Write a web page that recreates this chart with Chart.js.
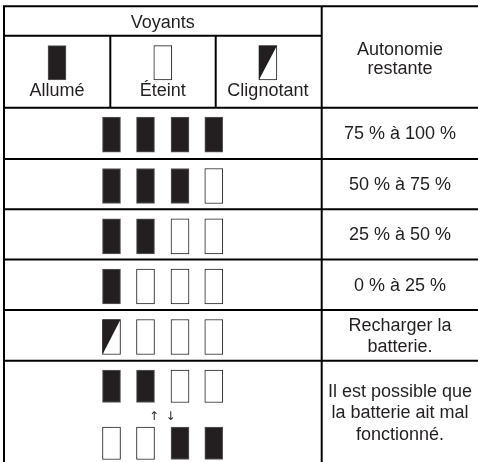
<!DOCTYPE html>
<html>
<head>
<meta charset="utf-8">
<script src="https://cdn.jsdelivr.net/npm/chart.js@4.4.1/dist/chart.umd.min.js"></script>
<style>
  html, body { margin: 0; padding: 0; background: #fff; }
  canvas { display: block; }
</style>
</head>
<body>
<canvas id="tableau" width="478" height="462" style="width:478px;height:462px"></canvas>
<script>
'use strict';

// ===== Données =====
var titre = 'Voyants';
var legende = ['Allumé', 'Éteint', 'Clignotant'];
var legendeEtats = ['on', 'off', 'blink'];
var enTeteAutonomie = ['Autonomie', 'restante'];
var autonomie = [
  ['75 % à 100 %'],
  ['50 % à 75 %'],
  ['25 % à 50 %'],
  ['0 % à 25 %'],
  ['Recharger la', 'batterie.'],
  ['Il est possible que', 'la batterie ait mal', 'fonctionné.']
];
// chaque ligne : une ou deux séquences de 4 voyants
var voyants = [
  [['on', 'on', 'on', 'on']],
  [['on', 'on', 'on', 'off']],
  [['on', 'on', 'off', 'off']],
  [['on', 'off', 'off', 'off']],
  [['blink', 'off', 'off', 'off']],
  [['on', 'on', 'off', 'off'], ['off', 'off', 'on', 'on']]
];
var alternance = ['↑', '↓'];

// ===== Mise en page (unités = pixels) =====
var NOIR = '#231f20';
var POLICE = '18px "Liberation Sans", Arial, sans-serif';
var xGauche = 4, xDroite = 478, xSep = 321.7, ySup = 6.3, yVoyants = 35.7, yEntete = 107.7;
var xSousCol = [110.3, 215.7];
var hautLignes = [107.7, 159, 209.3, 259.5, 310, 360.7];
var yBas = 462;
var slotX = [111.5, 145.5, 180, 213.8];
var legendeX = [57, 162.8, 267.9];
var xTexte = 400;

// construction des barres (rectangles des voyants)
var barres = [];
for (var k = 0; k < legendeEtats.length; k++) {
  barres.push({ x: legendeX[k], y: [45.7, 80], etat: legendeEtats[k] });
}
for (var i = 0; i < voyants.length; i++) {
  var seqs = voyants[i];
  for (var s = 0; s < seqs.length; s++) {
    var haut, h;
    if (seqs.length === 1) { haut = hautLignes[i] + 9.5; h = 35; }
    else { haut = hautLignes[i] + (s === 0 ? 9.3 : 66.3); h = 32.5; }
    for (var j = 0; j < seqs[s].length; j++) {
      barres.push({ x: slotX[j], y: [haut, haut + h], etat: seqs[s][j] });
    }
  }
}

var tablePlugin = {
  id: 'tablePlugin',
  beforeDatasetsDraw: function (chart) {
    var ctx = chart.ctx;
    var X = function (v) { return chart.scales.x.getPixelForValue(v); };
    var Y = function (v) { return chart.scales.y.getPixelForValue(v); };
    ctx.save();
    ctx.strokeStyle = '#000';
    ctx.lineWidth = 2;
    ctx.lineCap = 'butt';
    var seg = function (x1, y1, x2, y2) {
      ctx.beginPath();
      ctx.moveTo(X(x1), Y(y1));
      ctx.lineTo(X(x2), Y(y2));
      ctx.stroke();
    };
    seg(xGauche - 1, ySup, xDroite, ySup);
    seg(xGauche, ySup, xGauche, yBas);
    seg(xSep, ySup, xSep, yBas);
    seg(xGauche, yVoyants, xSep, yVoyants);
    for (var c = 0; c < xSousCol.length; c++) seg(xSousCol[c], yVoyants, xSousCol[c], yEntete);
    for (var r = 0; r < hautLignes.length; r++) seg(xGauche, hautLignes[r], xDroite, hautLignes[r]);
    ctx.restore();
  },
  afterDatasetsDraw: function (chart) {
    var ctx = chart.ctx;
    var X = function (v) { return chart.scales.x.getPixelForValue(v); };
    var Y = function (v) { return chart.scales.y.getPixelForValue(v); };
    ctx.save();

    // triangle des voyants clignotants
    var meta = chart.getDatasetMeta(0);
    for (var n = 0; n < meta.data.length; n++) {
      if (barres[n].etat !== 'blink') continue;
      var el = meta.data[n];
      var l = el.x - el.width / 2, rr = el.x + el.width / 2;
      var t = Math.min(el.y, el.base), b = Math.max(el.y, el.base);
      ctx.fillStyle = NOIR;
      ctx.beginPath();
      ctx.moveTo(l, t);
      ctx.lineTo(rr, t);
      ctx.lineTo(l, b);
      ctx.closePath();
      ctx.fill();
    }

    ctx.fillStyle = NOIR;
    ctx.font = POLICE;
    ctx.textAlign = 'center';
    ctx.textBaseline = 'alphabetic';
    ctx.fillText(titre, X((xGauche + xSep) / 2), Y(28.3));
    for (var k = 0; k < legende.length; k++) {
      ctx.fillText(legende[k], X(legendeX[k]), Y(95.5));
    }
    ctx.fillText(enTeteAutonomie[0], X(xTexte), Y(55));
    ctx.fillText(enTeteAutonomie[1], X(xTexte), Y(74));

    for (var i = 0; i < autonomie.length; i++) {
      var lignes = autonomie[i];
      var hRow = (i + 1 < hautLignes.length ? hautLignes[i + 1] : yBas) - hautLignes[i];
      var pas = 21.5;
      var base0 = hautLignes[i] + hRow / 2 + 6 - (lignes.length - 1) * pas / 2;
      if (lignes.length === 3) base0 = hautLignes[i] + 36;
      for (var m = 0; m < lignes.length; m++) {
        ctx.fillText(lignes[m], X(xTexte), Y(base0 + m * pas));
      }
    }

    ctx.font = '12px "DejaVu Sans", sans-serif';
    ctx.fillText(alternance[0], X(154), Y(420));
    ctx.fillText(alternance[1], X(170.5), Y(420));
    ctx.restore();
  }
};

new Chart(document.getElementById('tableau').getContext('2d'), {
  type: 'bar',
  data: {
    datasets: [{
      data: barres,
      barThickness: 18,
      borderSkipped: false,
      borderWidth: 1,
      backgroundColor: function (c) { return c.raw && c.raw.etat === 'on' ? NOIR : '#ffffff'; },
      borderColor: function (c) { return c.raw && c.raw.etat === 'on' ? '#5a5a5a' : NOIR; }
    }]
  },
  options: {
    responsive: false,
    animation: false,
    devicePixelRatio: 1,
    layout: { padding: 0 },
    plugins: {
      legend: { display: false },
      tooltip: { enabled: false }
    },
    scales: {
      x: { type: 'linear', min: 0, max: 478, offset: false, display: false },
      y: { type: 'linear', min: 0, max: 462, reverse: true, display: false }
    }
  },
  plugins: [tablePlugin]
});
</script>
</body>
</html>
